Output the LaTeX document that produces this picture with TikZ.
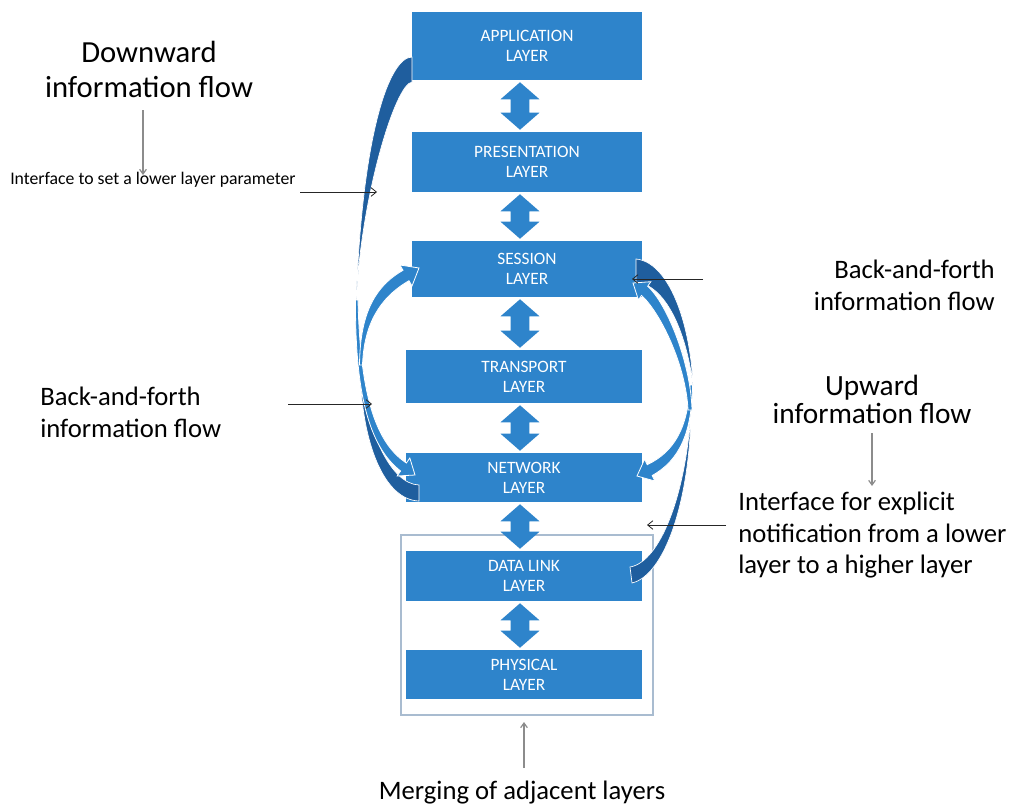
\documentclass[tikz,border=0pt]{standalone}
\usepackage{fontspec}
\setmainfont{Carlito}
\usetikzlibrary{arrows.meta,calc}
\definecolor{boxblue}{HTML}{2E84CB}
\definecolor{darkblue}{HTML}{1F5E9E}
\definecolor{frameblue}{HTML}{A9BCD0}
\definecolor{greyarr}{HTML}{8C8C8C}
\newcommand{\dblarrow}[2]{%
  \fill[boxblue] let \p1=(#1.south), \p2=(#2.north) in
    (390pt,\y1-1.5pt) -- (404.6pt,\y1-14.25pt) -- (397.1pt,\y1-14.25pt)
    -- (397.1pt,\y2+14.25pt) -- (404.6pt,\y2+14.25pt) -- (390pt,\y2+1.5pt)
    -- (375.4pt,\y2+14.25pt) -- (382.9pt,\y2+14.25pt) -- (382.9pt,\y1-14.25pt)
    -- (375.4pt,\y1-14.25pt) -- cycle;}
\begin{document}
\begin{tikzpicture}[x=0.75pt,y=-0.75pt,
  layerbox/.style={fill=boxblue, text=white, font=\fontsize{13}{15}\selectfont,
    align=center, inner sep=0pt},
  backpart/.style={fill=darkblue, draw=white, line width=0.5pt},
  frontpart/.style={fill=boxblue, draw=white, line width=0.6pt},
  thinarr/.style={draw=black!85, line width=0.6pt, -{Straight Barb[length=4pt,width=6.5pt]}},
  greyarrow/.style={draw=greyarr, line width=0.9pt, -{Straight Barb[length=3.5pt,width=5pt]}},
  bigtxt/.style={font=\fontsize{23}{27}\selectfont, inner sep=0pt},
  midtxt/.style={font=\fontsize{20}{24}\selectfont, inner sep=0pt},
  uptxt/.style={font=\fontsize{22}{26}\selectfont, inner sep=0pt},
  smalltxt/.style={font=\fontsize{13.3}{15}\selectfont, inner sep=0pt}]
\useasboundingbox (0,0) rectangle (1019,807);

% merging frame
\node[draw=frameblue, line width=1.1pt, minimum width=189pt, minimum height=135pt, inner sep=0pt] (frame) at (527,625) {};

% layers
\node[layerbox, minimum width=172.5pt, minimum height=51pt] (app) at (527,46) {APPLICATION\\LAYER};
\node[layerbox, minimum width=172.5pt, minimum height=45pt] (pres) at (527,162) {PRESENTATION\\LAYER};
\node[layerbox, minimum width=172.5pt, minimum height=42pt] (sess) at (527,269) {SESSION\\LAYER};
\node[layerbox, minimum width=177pt, minimum height=39.75pt] (trans) at (524,376.5) {TRANSPORT\\LAYER};
\node[layerbox, minimum width=177pt, minimum height=36.75pt] (net) at (524,477.5) {NETWORK\\LAYER};
\node[layerbox, minimum width=177pt, minimum height=37.5pt] (dl) at (524,576) {DATA LINK\\LAYER};
\node[layerbox, minimum width=177pt, minimum height=36.75pt] (phy) at (524,674.5) {PHYSICAL\\LAYER};

% double arrows
\dblarrow{app}{pres}
\dblarrow{pres}{sess}
\dblarrow{sess}{trans}
\dblarrow{trans}{net}
\dblarrow{net}{dl}
\dblarrow{dl}{phy}

% curved arrows: back parts
\path[backpart] (412,57) .. controls (390,57) and (362,130) .. (356,305)
  .. controls (360,200) and (395,84) .. (412,82) -- cycle;
\path[backpart] (419,501) .. controls (385,500) and (361,445) .. (360,365)
  .. controls (366,430) and (390,484) .. (419,485) -- cycle;
\path[backpart] (636,259) .. controls (668,262) and (690,320) .. (693,385)
  .. controls (686,330) and (665,285) .. (636,282) -- cycle;
\path[backpart] (632,583) .. controls (665,575) and (690,500) .. (691,410)
  .. controls (686,495) and (660,562) .. (630,567) -- cycle;

% curved arrows: front parts
\path[frontpart] (355.5,300) .. controls (355,390) and (368,446) .. (400.6,471)
  -- (397.2,476) -- (415,475) -- (409.8,458) -- (406.4,463)
  .. controls (374,442) and (360,390) .. (358,300) -- cycle;
\path[frontpart] (359.5,365) .. controls (360,318) and (372,288) .. (403,270.3)
  -- (400,265) -- (419,268) -- (412,286) -- (409,280.7)
  .. controls (379,298) and (364,325) .. (362.5,365) -- cycle;
\path[frontpart] (692.5,385) .. controls (692,432) and (680,460) .. (652.2,475.5)
  -- (654.8,481) -- (637,476) -- (644.6,459.2) -- (647.2,464.7)
  .. controls (674,452) and (688,428) .. (690,385) -- cycle;
\path[frontpart] (692,410) .. controls (691,365) and (668,305) .. (647.7,286.2)
  -- (650.8,281.7) -- (633,283) -- (638.4,299.9) -- (641.5,295.4)
  .. controls (660,312) and (686,365) .. (688,410) -- cycle;

% texts
\node[bigtxt, anchor=base] (dw1) at (149,62) {Downward};
\node[bigtxt, anchor=base] (dw2) at (149,97) {information flow};
\node[smalltxt, anchor=base west] (iflow) at (10,184) {Interface to set a lower layer parameter};
\node[midtxt, anchor=base west] (lb1) at (40,405) {Back-and-forth};
\node[midtxt, anchor=base west] (lb2) at (40,437) {information flow};
\node[midtxt, anchor=base east] (rb1) at (995,278) {Back-and-forth};
\node[midtxt, anchor=base east] (rb2) at (995,310) {information flow};
\node[uptxt, anchor=base] (up1) at (872,395) {Upward};
\node[uptxt, anchor=base] (up2) at (872,423) {information flow};
\node[midtxt, anchor=base west] (ex1) at (738,510) {Interface for explicit};
\node[midtxt, anchor=base west] (ex2) at (738,542) {notification from a lower};
\node[midtxt, anchor=base west] (ex3) at (738,573) {layer to a higher layer};
\node[midtxt, anchor=base] (merge) at (522,799) {Merging of adjacent layers};

% annotation arrows
\coordinate (a1s) at (300,192); \coordinate (a1e) at (377,192);
\draw[thinarr] (a1s) -- (a1e);
\coordinate (a2s) at (288,404); \coordinate (a2e) at (372,404);
\draw[thinarr] (a2s) -- (a2e);
\coordinate (a3s) at (703,279); \coordinate (a3e) at (632,279);
\draw[thinarr] (a3s) -- (a3e);
\coordinate (a4s) at (726,525); \coordinate (a4e) at (647,525);
\draw[thinarr] (a4s) -- (a4e);
\coordinate (g1s) at (143,110); \coordinate (g1e) at (143,175);
\draw[greyarrow] (g1s) -- (g1e);
\coordinate (g2s) at (872,433); \coordinate (g2e) at (872,486);
\draw[greyarrow] (g2s) -- (g2e);
\coordinate (g3s) at (524,768); \coordinate (g3e) at (524,722);
\draw[greyarrow] (g3s) -- (g3e);
\end{tikzpicture}
\end{document}
